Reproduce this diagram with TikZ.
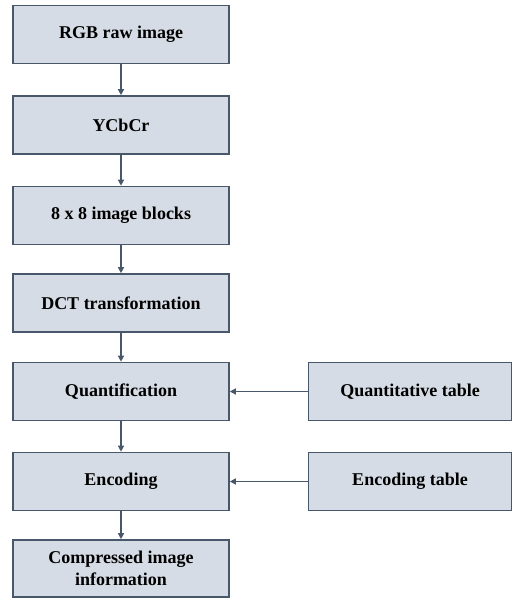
\documentclass[tikz,border=0pt]{standalone}
\usepackage{fontspec}
\setmainfont{Liberation Serif}
\usetikzlibrary{arrows.meta}
\definecolor{boxfill}{HTML}{D6DCE5}
\definecolor{boxline}{HTML}{485769}
\tikzset{
  stepbox/.style={draw=boxline, line width=1.6pt, fill=boxfill,
    minimum height=58pt, inner sep=0pt, align=center,
    font=\fontsize{18}{22}\selectfont\bfseries},
  leftbox/.style={stepbox, minimum width=216pt},
  rightbox/.style={stepbox, minimum width=203pt},
  flow/.style={draw=boxline, line width=1.3pt,
    -{Triangle[length=6pt,width=6pt]}}
}
\begin{document}
\begin{tikzpicture}[x=1pt,y=1pt]
  \useasboundingbox (0,0) rectangle (513,-601);
  \node[leftbox] (rgb)   at (121,-34.5)  {RGB raw image};
  \node[leftbox] (ycc)   at (121,-125)   {YCbCr};
  \node[leftbox] (blk)   at (121,-215.5) {8 x 8 image blocks};
  \node[leftbox] (dct)   at (121,-303)   {DCT transformation};
  \node[leftbox] (quant) at (121,-391.5) {Quantification};
  \node[leftbox] (enc)   at (121,-481.5) {Encoding};
  \node[leftbox, minimum height=57pt] (out) at (121,-568.5) {Compressed image\\information};
  \node[rightbox] (qtab) at (410,-391.5) {Quantitative table};
  \node[rightbox] (etab) at (410,-481.5) {Encoding table};
  \draw[flow] (rgb) -- (ycc);
  \draw[flow] (ycc) -- (blk);
  \draw[flow] (blk) -- (dct);
  \draw[flow] (dct) -- (quant);
  \draw[flow] (quant) -- (enc);
  \draw[flow] (enc) -- (out);
  \draw[flow] (qtab) -- (quant);
  \draw[flow] (etab) -- (enc);
\end{tikzpicture}
\end{document}
